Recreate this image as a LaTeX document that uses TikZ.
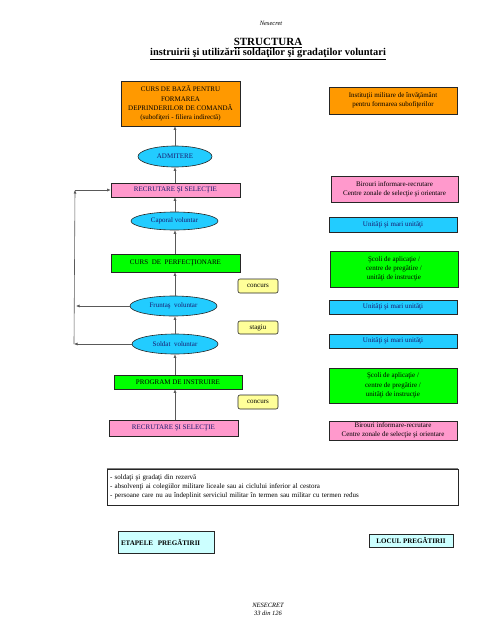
\documentclass[tikz,border=0pt]{standalone}
\usepackage{fontspec}
\setmainfont{Liberation Serif}
\usetikzlibrary{shapes.geometric,arrows.meta}
\definecolor{orng}{HTML}{FF9900}
\definecolor{pnk}{HTML}{FF99CC}
\definecolor{sky}{HTML}{22CCFF}
\definecolor{grn}{HTML}{00FF00}
\definecolor{ylw}{HTML}{FFFF99}
\definecolor{pcyan}{HTML}{CCFFFF}
\definecolor{navy}{HTML}{1A1A6E}
\newcommand\fs{\fontsize{7}{9.3}\selectfont}
\begin{document}
\begin{tikzpicture}[x=1pt,y=-1pt,
  bx/.style={draw=black!85, line width=0.6pt, inner sep=0pt, align=center, font=\fs, rectangle},
  elp/.style={draw=black!85, line width=0.6pt, inner sep=0pt, ellipse, fill=sky, font=\fs, text=navy},
  tag/.style={draw=black!85, line width=0.6pt, inner sep=0pt, rounded corners=2pt, fill=ylw, font=\fs, minimum width=40pt, minimum height=14pt},
  arr/.style={draw=black!65, line width=0.6pt, -{Latex[length=3.5pt,width=3pt]}},
  ln/.style={draw=black!65, line width=0.6pt}]
\useasboundingbox (0,0) rectangle (495,640);
\fill[white] (0,0) rectangle (495,640);
% header
\node[font=\itshape\fontsize{6.5}{7}\selectfont] (hdr) at (271,23) {Nesecret};
\node[font=\bfseries\fontsize{11}{12}\selectfont] (t1) at (268,43) {\underline{STRUCTURA}};
\node[font=\bfseries\fontsize{10.4}{11}\selectfont] (t2) at (268,53.5) {\underline{instruirii şi utilizării soldaţilor şi gradaţilor voluntari}};
% left column
\node[bx, fill=orng, minimum width=119pt, minimum height=45pt] (curs) at (180.5,103.5) {CURS DE BAZĂ PENTRU\\FORMAREA\\DEPRINDERILOR DE COMANDĂ\\(subofiţeri - filiera indirectă)};
\node[elp, minimum width=74pt, minimum height=21pt] (adm) at (175,156.5) {ADMITERE};
\node[bx, fill=pnk, minimum width=129pt, minimum height=14pt, text=navy] (rec1) at (175.5,190) {RECRUTARE ŞI SELECŢIE};
\node[elp, minimum width=87pt, minimum height=18pt] (cap) at (174.5,221) {Caporal voluntar};
\node[bx, fill=grn, minimum width=129pt, minimum height=18pt] (perf) at (175.5,263) {CURS \ DE \ PERFECŢIONARE};
\node[tag] (conc1) at (258,286) {concurs};
\node[elp, minimum width=87pt, minimum height=20pt] (frun) at (173.5,306) {Fruntaş \ voluntar};
\node[tag, minimum height=13pt] (stag) at (258,327.5) {stagiu};
\node[elp, minimum width=86pt, minimum height=20pt] (sold) at (175,344) {Soldat \ voluntar};
\node[bx, fill=grn, minimum width=128pt, minimum height=14pt] (prog) at (178,382) {PROGRAM DE INSTRUIRE};
\node[tag] (conc2) at (258,402) {concurs};
\node[bx, fill=pnk, minimum width=129pt, minimum height=16pt, text=navy] (rec2) at (173.5,428) {RECRUTARE ŞI SELECŢIE};
% right column
\node[bx, fill=orng, minimum width=128pt, minimum height=27pt] (inst) at (393,100.5) {Instituţii militare de învăţământ\\pentru formarea subofiţerilor};
\node[bx, fill=pnk, minimum width=127pt, minimum height=26pt] (bir1) at (394.5,189) {Birouri informare-recrutare\\Centre zonale de selecţie şi orientare};
\node[bx, fill=sky, minimum width=128pt, minimum height=15pt, text=navy] (un1) at (393,224.5) {Unităţi şi mari unităţi};
\node[bx, fill=grn, minimum width=128pt, minimum height=36pt] (sc1) at (394,269) {Şcoli de aplicaţie /\\centre de pregătire /\\ unităţi de instrucţie};
\node[bx, fill=sky, minimum width=128pt, minimum height=14pt, text=navy] (un2) at (393,307) {Unităţi şi mari unităţi};
\node[bx, fill=sky, minimum width=128pt, minimum height=14pt, text=navy] (un3) at (393,341) {Unităţi şi mari unităţi};
\node[bx, fill=grn, minimum width=128pt, minimum height=35pt] (sc2) at (393,385.5) {Şcoli de aplicaţie /\\centre de pregătire /\\ unităţi de instrucţie};
\node[bx, fill=pnk, minimum width=128pt, minimum height=19pt] (bir2) at (393,430.5) {Birouri informare-recrutare\\Centre zonale de selecţie şi orientare};
% list box
\node[bx, fill=white, minimum width=351pt, minimum height=36pt, align=left, text width=345pt] (lst) at (282.5,487) {- soldaţi şi gradaţi din rezervă\\- absolvenţi ai colegiilor militare liceale sau ai ciclului inferior al cestora\\- persoane care nu au îndeplinit serviciul militar în termen sau militar cu termen redus};
\draw[black!50, line width=1.4pt] (lst.north west) -- (lst.north east);
% legend boxes
\node[bx, fill=pcyan, minimum width=96pt, minimum height=22pt, line width=0.8pt, font=\fs\bfseries, align=left, text width=90pt] (etap) at (166,542) {ETAPELE \ PREGĂTIRII};
\node[bx, fill=pcyan, minimum width=84pt, minimum height=13pt, line width=0.8pt, font=\fs\bfseries] (loc) at (411,540.5) {LOCUL PREGĂTIRII};
% footer
\node[font=\itshape\fontsize{6.5}{8}\selectfont, align=center] (ftr) at (268,609) {NESECRET\\33 din 126};
% connectors
\draw[arr] (adm.north) -- (adm.north |- curs.south);
\draw[arr] (rec1.north -| adm.south) -- (adm.south);
\draw[arr] (cap.north -| adm.south) -- (rec1.south -| adm.south);
\draw[arr] (perf.north -| adm.south) -- (cap.south -| adm.south);
\draw[arr] (frun.north -| adm.south) -- (perf.south -| adm.south);
\draw[arr] (sold.north -| adm.south) -- (frun.south -| adm.south);
\draw[arr] (prog.north -| adm.south) -- (sold.south -| adm.south);
\draw[arr] (rec2.north -| adm.south) -- (prog.south -| adm.south);
% feedback loop
\coordinate (lt) at (75,190);
\coordinate (lf) at (76,306);
\coordinate (lb) at (74,344);
\draw[arr] (frun.west) -- (lf);
\draw[arr] (sold.west) -- (lb);
\draw[arr] (lb) -- (lt);
\draw[arr] (lt) -- (rec1.west);
\end{tikzpicture}
\end{document}
